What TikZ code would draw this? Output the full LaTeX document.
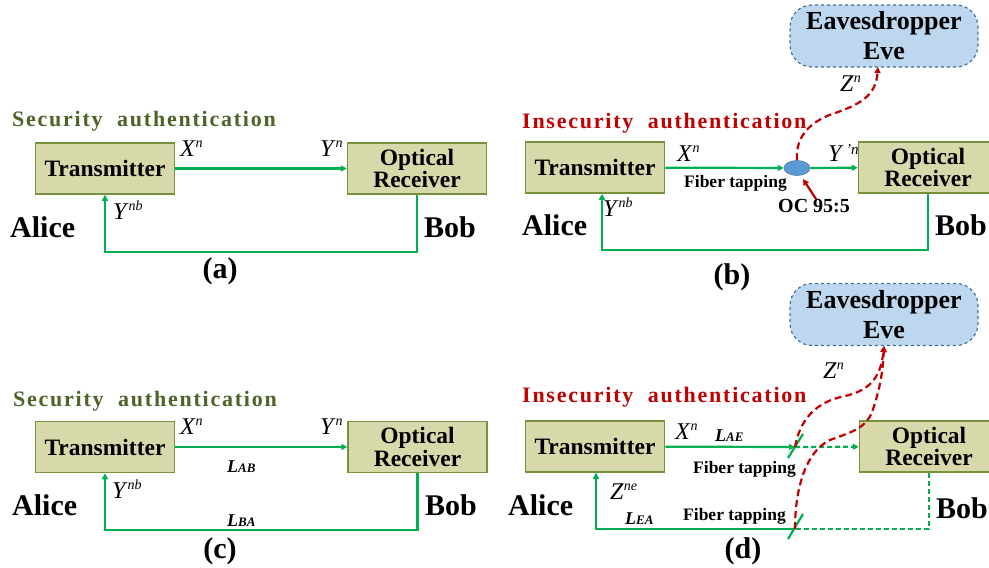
\documentclass[tikz,border=0pt]{standalone}
\usepackage{fontspec}
\setmainfont{Liberation Serif}
\newfontfamily\titlefont[LetterSpace=8]{Liberation Serif}
\usetikzlibrary{arrows.meta,calc,positioning,shapes.geometric}

\definecolor{boxfill}{RGB}{216,217,170}
\definecolor{boxedge}{RGB}{118,146,60}
\definecolor{fibre}{RGB}{0,176,80}
\definecolor{secgreen}{RGB}{79,98,40}
\definecolor{insred}{RGB}{192,0,0}
\definecolor{evefill}{RGB}{189,215,238}
\definecolor{eveedge}{RGB}{65,113,156}
\definecolor{ocfill}{RGB}{91,155,213}

\newcommand{\sym}[2]{\textit{#1}\raisebox{9pt}{\fontsize{14}{14}\selectfont\textit{#2}}}
\newcommand{\len}[1]{\textbf{\textit{L}}{\fontsize{13}{13}\selectfont\textbf{\textit{#1}}}}

\tikzset{
  box/.style={draw=boxedge, fill=boxfill, line width=1.5pt, minimum width=139pt, minimum height=51pt,
    inner sep=0pt, align=center, font=\fontsize{23.5}{20}\selectfont\bfseries},
  link/.style={draw=fibre, line width=2.2pt, -{Triangle[length=6pt,width=6pt]}},
  feed/.style={draw=fibre, line width=2.2pt},
  tapped/.style={feed, dash pattern=on 5pt off 3pt},
  leak/.style={draw=insred, line width=2.2pt, dash pattern=on 7pt off 4pt, -{Triangle[length=6pt,width=6pt]}},
  pointer/.style={draw=insred, line width=2.2pt, -{Triangle[length=6pt,width=6pt]}},
  sym/.style={inner sep=0pt, anchor=base west, font=\fontsize{24}{24}\selectfont},
  lenlbl/.style={inner sep=0pt, anchor=base west, font=\fontsize{18}{18}\selectfont},
  party/.style={inner sep=0pt, anchor=base west, font=\fontsize{30}{30}\selectfont\bfseries},
  panel/.style={inner sep=0pt, anchor=base, font=\fontsize{30}{30}\selectfont\bfseries},
  heading/.style={inner sep=0pt, anchor=base west, font=\titlefont\fontsize{22}{22}\selectfont\bfseries},
  note/.style={inner sep=0pt, anchor=base west, font=\fontsize{17.5}{17.5}\selectfont\bfseries},
  eve/.style={draw=eveedge, fill=evefill, dashed, line width=1.2pt, rounded corners=22pt,
    minimum width=188pt, minimum height=62pt, inner sep=0pt, align=center, font=\fontsize{26}{30}\selectfont\bfseries}
}

\begin{document}
\begin{tikzpicture}[x=1pt,y=-1pt]
  \clip (0,0) rectangle (989,568);%

  % Panel (a): security authentication
  \node[heading, text=secgreen] (headA) at (12,126) {Security\ \ authentication};%
  \node[box] (txA) at (105,168.5) {Transmitter};%
  \node[box] (rxA) at (417,168.5) {Optical\\Receiver};%
  \draw[link] (txA) -- (rxA);%
  \node[sym] (xA) at (180,156) {\sym{X}{n}};%
  \node[sym] (yA) at (320,156) {\sym{Y}{n}};%
  % Drawing feedback line Bob -> Alice
  \coordinate (fA1) at (417,252);%
  \coordinate (fA2) at (105,252);%
  \draw[link] (rxA.south) -- (fA1) -- (fA2) -- (txA.south);%
  \node[sym] (ybA) at (113,219) {\sym{Y}{nb}};%
  \node[party] (aliceA) at (10,237) {Alice};%
  \node[party] (bobA) at (424,237) {Bob};%
  \node[panel] (capA) at (220,278) {(a)};%

  % Panel (b): insecurity authentication, OC tap
  \node[heading, text=insred] (headB) at (522,128) {Insecurity\ \ authentication};%
  \node[box] (txB) at (595,167.5) {Transmitter};%
  \node[box] (rxB) at (928,167.5) {Optical\\Receiver};%
  \node[ellipse, draw=eveedge, line width=0.5pt, fill=ocfill, minimum width=26pt, minimum height=15pt] (oc) at (797,168) {};%
  \draw[link] (txB) -- (oc);%
  \draw[link] (oc) -- (rxB);%
  \node[sym] (xB) at (677,161) {\sym{X}{n}};%
  \node[sym] (yB) at (828,161) {\textit{Y}\raisebox{7pt}{\fontsize{15}{15}\selectfont\textit{\,'n}}};%
  \node[note] (tapB) at (684,187) {Fiber tapping};%
  \node[note, font=\fontsize{20}{20}\selectfont\bfseries] (ocl) at (778,212) {OC 95:5};%
  \coordinate (ocpt) at (816,199);%
  \coordinate (octip) at (803,179);%
  \draw[pointer] (ocpt) -- (octip);%
  % Drawing eavesdropper Eve
  \node[eve] (eveB) at (884,36) {Eavesdropper\\Eve};%
  \coordinate (eveinB) at (878,67);%
  \draw[leak] (oc.north) .. controls (795,135) and (812,120) .. (838,112) .. controls (866,102) and (876,92) .. (eveinB);%
  \node[sym] (zB) at (840,91) {\sym{Z}{n}};%
  \coordinate (fB1) at (928,250);%
  \coordinate (fB2) at (602,250);%
  \draw[link] (rxB.south) -- (fB1) -- (fB2) -- (fB2 |- txB.south);%
  \node[sym] (ybB) at (603,216) {\sym{Y}{nb}};%
  \node[party] (aliceB) at (522,235) {Alice};%
  \node[party] (bobB) at (935,235) {Bob};%
  \node[panel] (capB) at (732,284) {(b)};%

  % Panel (c): security authentication with fibre lengths
  \node[heading, text=secgreen] (headC) at (13,406) {Security\ \ authentication};%
  \node[box] (txC) at (105,447) {Transmitter};%
  \node[box] (rxC) at (417.5,447) {Optical\\Receiver};%
  \draw[link] (txC) -- (rxC);%
  \node[sym] (xC) at (180,434) {\sym{X}{n}};%
  \node[sym] (yC) at (320,434) {\sym{Y}{n}};%
  \node[lenlbl] (lab) at (227,472) {\len{AB}};%
  \coordinate (fC1) at (417.5,530);%
  \coordinate (fC2) at (105,530);%
  \draw[link] (rxC.south) -- (fC1) -- (fC2) -- (txC.south);%
  \node[lenlbl] (lba) at (227,526) {\len{BA}};%
  \node[sym] (ybC) at (112,498) {\sym{Y}{nb}};%
  \node[party] (aliceC) at (12,515) {Alice};%
  \node[party] (bobC) at (425,515) {Bob};%
  \node[panel] (capC) at (220,558) {(c)};%

  % Panel (d): insecurity authentication, both fibres tapped
  \node[heading, text=insred] (headD) at (522,402) {Insecurity\ \ authentication};%
  \node[box] (txD) at (595,446.5) {Transmitter};%
  \node[box] (rxD) at (929,446.5) {Optical\\Receiver};%
  \coordinate (tapU) at (795,447);%
  \coordinate (tapL) at (795,529);%
  \draw[link] (txD) -- (tapU);%
  \draw[link, dash pattern=on 5pt off 3pt] (tapU) -- (rxD);%
  \draw[tapped] (rxD.south) -- (rxD.south |- tapL) -- (tapL);%
  \coordinate (fD) at (596,529);%
  \draw[link] (tapL) -- (fD) -- (fD |- txD.south);%
  % Drawing tapping marks
  \draw[feed] ($(tapU)+(-7,11)$) -- ($(tapU)+(8,-13)$);%
  \draw[feed] ($(tapL)+(-7,10)$) -- ($(tapL)+(8,-15)$);%
  \node[sym] (xD) at (675,439) {\sym{X}{n}};%
  \node[lenlbl] (lae) at (715,441) {\len{AE}};%
  \node[note] (tapD1) at (693,473) {Fiber tapping};%
  \node[note] (tapD2) at (683,520) {Fiber tapping};%
  \node[sym] (zeD) at (610,499) {\sym{Z}{ne}};%
  \node[lenlbl] (lea) at (625,524) {\len{EA}};%
  % Drawing eavesdropper Eve
  \node[eve] (eveD) at (884,314.5) {Eavesdropper\\Eve};%
  \coordinate (eveinD) at (884,346);%
  \draw[leak] (tapU) .. controls (800,420) and (815,402) .. (845,396) .. controls (872,390) and (881,375) .. (eveinD);%
  \draw[leak] (tapL) .. controls (795,490) and (805,452) .. (830,440) .. controls (852,432) and (866,428) .. (872,412) .. controls (880,390) and (883,370) .. (eveinD);%
  \node[sym] (zD) at (823,378) {\sym{Z}{n}};%
  \node[party] (aliceD) at (508,515) {Alice};%
  \node[party] (bobD) at (936,518) {Bob};%
  \node[panel] (capD) at (743,558) {(d)};%
\end{tikzpicture}
\end{document}
